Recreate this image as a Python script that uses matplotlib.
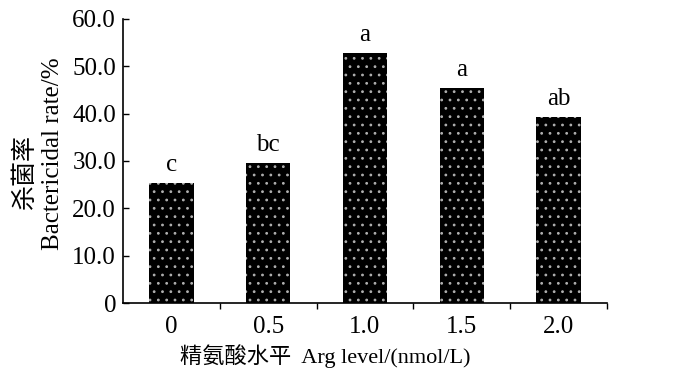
import matplotlib
matplotlib.use('Agg')
import matplotlib.pyplot as plt
from matplotlib.ticker import FixedLocator

plt.rcParams['font.family'] = ['Liberation Serif', 'Noto Sans CJK SC']
plt.rcParams['hatch.linewidth'] = 0.8

levels = ['0', '0.5', '1.0', '1.5', '2.0']
rate = [25.3, 29.6, 52.8, 45.4, 39.3]
letters = ['c', 'bc', 'a', 'a', 'ab']
yticks = [0, 10, 20, 30, 40, 50, 60]
ytick_labels = ['0', '10.0', '20.0', '30.0', '40.0', '50.0', '60.0']

fig = plt.figure(figsize=(7, 3.82), dpi=100)
ax = fig.add_axes([0.1757, 0.2068, 0.6914, 0.7435])

x = range(len(levels))
bars = ax.bar(x, rate, width=0.46, color='black', edgecolor='#b0b0b0',
              linewidth=0, hatch='..')
for xi, v, t in zip(x, rate, letters):
    ax.text(xi, v + 1.5, t, ha='center', va='bottom', fontsize=18)

ax.set_xlim(-0.5, 4.5)
ax.set_ylim(0, 60)
ax.set_xticks(list(x))
ax.set_xticklabels(levels, fontsize=18)
ax.xaxis.set_minor_locator(FixedLocator([0.5, 1.5, 2.5, 3.5, 4.5]))
ax.tick_params(axis='x', which='major', length=0, pad=9)
ax.tick_params(axis='x', which='minor', length=4, direction='out', width=1)
ax.set_yticks(yticks)
ax.set_yticklabels(ytick_labels, fontsize=18)
ax.tick_params(axis='y', direction='in', length=4, width=1, pad=5)

for s in ['top', 'right']:
    ax.spines[s].set_visible(False)
for s in ['left', 'bottom']:
    ax.spines[s].set_linewidth(1.2)

ax.set_xlabel('精氨酸水平  Arg level/(nmol/L)', fontsize=16)
ax.xaxis.set_label_coords(0.417, -0.145)

fig.text(25 / 700, 1 - 171 / 382, '杀菌率', rotation=90, ha='center', va='center', fontsize=18)
fig.text(53 / 700, 1 - 154 / 382, 'Bactericidal rate/%', rotation=90, ha='center', va='center', fontsize=18)

fig.savefig('out.png', dpi=100)
